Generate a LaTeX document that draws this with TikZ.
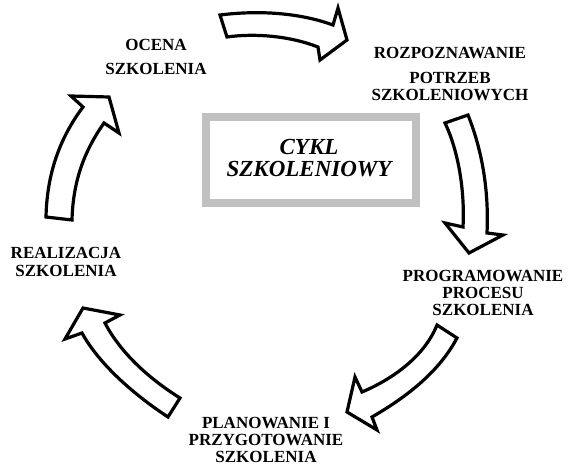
\documentclass[tikz,border=0pt]{standalone}
\usepackage{fontspec}
\setmainfont{Liberation Serif}
\definecolor{boxgray}{RGB}{192,192,192}
\begin{document}
\begin{tikzpicture}[x=1pt,y=-1pt,
  stage/.style={font=\bfseries\fontsize{17}{17}\selectfont, align=center, inner sep=0pt, anchor=north},
  bigarrow/.style={draw=black, fill=white, line width=3.2pt, line join=miter},
  frame/.style={draw=boxgray, line width=8pt, minimum width=210pt, minimum height=86pt, inner sep=0pt},
  title/.style={font=\bfseries\itshape\fontsize{23}{22}\selectfont, align=center, inner sep=0pt, anchor=north}]
\useasboundingbox (0,0) rectangle (571,468);

% central frame with the title
\node[frame] (cycle) at (311,160.5) {};
\node[title] (cycletitle) at (309,139.5) {CYKL\\SZKOLENIOWY};

% stage labels
\node[stage] (ocena) at (156,39.5) {OCENA\\[7pt]SZKOLENIA};
\node[stage] (rozp) at (450,47.5) {ROZPOZNAWANIE\\[8pt]POTRZEB\\SZKOLENIOWYCH};
\node[stage] (prog) at (483,270.5) {PROGRAMOWANIE\\PROCESU\\SZKOLENIA};
\node[stage] (plan) at (266,417.5) {PLANOWANIE I\\PRZYGOTOWANIE\\SZKOLENIA};
\node[stage] (real) at (66,247.5) {REALIZACJA\\[1pt]SZKOLENIA};

% curved block arrows between the stages
\draw[bigarrow] (220,15) .. controls (260,10) and (300,13) .. (333,25)
  -- (338,8) -- (347,40) -- (320,60) -- (318,47)
  .. controls (290,36) and (255,33) .. (227,37) -- cycle;

\draw[bigarrow] (468,115) .. controls (482,150) and (489,190) .. (487,233)
  -- (503,235) -- (469,253) -- (445,223) -- (463,227)
  .. controls (465,190) and (458,150) .. (445,123) -- cycle;

\draw[bigarrow] (457,338) .. controls (440,370) and (410,395) .. (372,417)
  -- (377,430) -- (347,412) -- (355,377) -- (362,392)
  .. controls (395,378) and (425,355) .. (437,325) -- cycle;

\draw[bigarrow] (168,417) .. controls (130,392) and (98,362) .. (82,333)
  -- (65,339) -- (83,308) -- (120,315) -- (105,323)
  .. controls (120,352) and (148,378) .. (180,398) -- cycle;

\draw[bigarrow] (46,217) .. controls (47,170) and (62,135) .. (83,107)
  -- (71,96) -- (109,97) -- (119,133) -- (104,123)
  .. controls (85,150) and (73,180) .. (72,220) -- cycle;
\end{tikzpicture}
\end{document}
